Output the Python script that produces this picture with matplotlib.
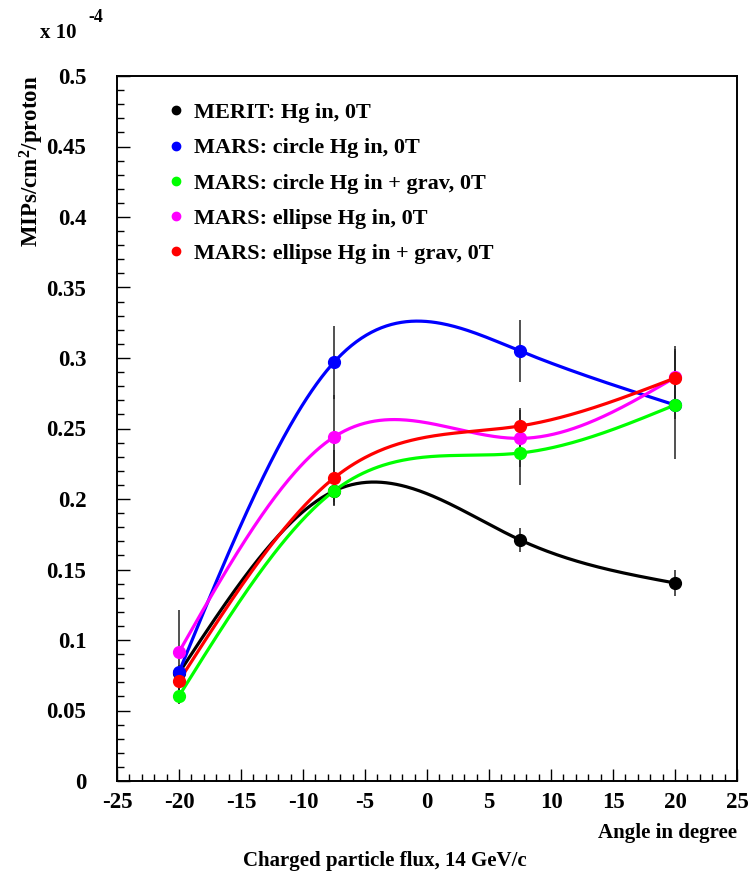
import numpy as np
import matplotlib
matplotlib.use("Agg")
import matplotlib.pyplot as plt
from matplotlib.lines import Line2D
from matplotlib.ticker import MultipleLocator

plt.rcParams['font.family'] = ['Liberation Serif', 'DejaVu Serif']
plt.rcParams['font.weight'] = 'bold'
plt.rcParams['mathtext.fontset'] = 'custom'
plt.rcParams['mathtext.rm'] = 'Liberation Serif:bold'
plt.rcParams['mathtext.it'] = 'Liberation Serif:bold'
plt.rcParams['mathtext.bf'] = 'Liberation Serif:bold'

# angles (degree) and flux values (x 1e-4 MIPs/cm^2/proton)
angles = [-20, -7.5, 7.5, 20]

merit = [0.0766, 0.2057, 0.171, 0.1404]
merit_err = [0.005, 0.008, 0.0085, 0.0095]

circle = [0.0773, 0.297, 0.305, 0.2667]
circle_err = [0.005, 0.026, 0.022, 0.01]

circle_grav = [0.0603, 0.2057, 0.2326, 0.2667]
circle_grav_err = [0.0057, 0.0097, 0.023, 0.038]

ellipse = [0.0915, 0.244, 0.243, 0.2862]
ellipse_err = [0.03, 0.03, 0.02, 0.02]

ellipse_grav = [0.0709, 0.2149, 0.2518, 0.2858]
ellipse_grav_err = [0.008, 0.02, 0.013, 0.023]

labels = ["MERIT: Hg in, 0T", "MARS: circle Hg in, 0T",
          "MARS: circle Hg in + grav, 0T", "MARS: ellipse Hg in, 0T",
          "MARS: ellipse Hg in + grav, 0T"]
colors = ["black", "#0000ff", "#00ff00", "#ff00ff", "#ff0000"]


def natural_spline(x, y, n=300):
    # plain natural cubic spline, like the smooth "C" curves
    x = np.asarray(x, float)
    y = np.asarray(y, float)
    k = len(x)
    h = np.diff(x)
    A = np.zeros((k, k))
    r = np.zeros(k)
    A[0, 0] = 1
    A[-1, -1] = 1
    for i in range(1, k - 1):
        A[i, i - 1] = h[i - 1]
        A[i, i] = 2 * (h[i - 1] + h[i])
        A[i, i + 1] = h[i]
        r[i] = 6 * ((y[i + 1] - y[i]) / h[i] - (y[i] - y[i - 1]) / h[i - 1])
    M = np.linalg.solve(A, r)
    xs = np.linspace(x[0], x[-1], n)
    ys = np.empty_like(xs)
    for j, t in enumerate(xs):
        i = min(np.searchsorted(x, t, side='right') - 1, k - 2)
        a = x[i + 1] - t
        b = t - x[i]
        ys[j] = (M[i] * a**3 + M[i + 1] * b**3) / (6 * h[i]) \
            + (y[i] / h[i] - M[i] * h[i] / 6) * a \
            + (y[i + 1] / h[i] - M[i + 1] * h[i] / 6) * b
    return xs, ys


fig = plt.figure(figsize=(7.55, 8.77), dpi=100)
ax = fig.add_axes([117 / 755, 1 - 781 / 877, 620 / 755, 705 / 877])

series = [(merit, merit_err), (circle, circle_err), (circle_grav, circle_grav_err),
          (ellipse, ellipse_err), (ellipse_grav, ellipse_grav_err)]

for (vals, errs), c in zip(series, colors):
    ax.errorbar(angles, vals, yerr=errs, fmt='none', ecolor='#222222',
                elinewidth=1.1, capsize=0, zorder=1)

for (vals, errs), c in zip(series, colors):
    xs, ys = natural_spline(angles, vals)
    ax.plot(xs, ys, color=c, lw=2.3, zorder=2)
    ax.plot(angles, vals, 'o', color=c, ms=8.5, zorder=3)

handles = [Line2D([], [], marker='o', ls='none', color=c, ms=6) for c in colors]
ax.legend(handles, labels, loc='upper left', bbox_to_anchor=(0.063, 0.975),
          frameon=False, fontsize=16, handletextpad=0.3, handlelength=1.0,
          labelspacing=0.66, borderaxespad=0)

ax.set_xlim(-25, 25)
ax.set_ylim(0, 0.5)
ax.xaxis.set_major_locator(MultipleLocator(5))
ax.xaxis.set_minor_locator(MultipleLocator(1))
ax.yaxis.set_major_locator(MultipleLocator(0.05))
ax.yaxis.set_minor_locator(MultipleLocator(0.01))
ax.set_xticks(np.arange(-25, 26, 5))
ax.set_xticklabels([str(v) for v in range(-25, 26, 5)])
ax.set_yticks(np.arange(0, 0.501, 0.05))
ax.set_yticklabels(["0", "0.05", "0.1", "0.15", "0.2", "0.25", "0.3",
                    "0.35", "0.4", "0.45", "0.5"])
ax.tick_params(which='both', direction='in', top=False, right=False,
               labelsize=16.5, width=1)
ax.tick_params(axis='y', which='major', length=9, pad=22)
ax.tick_params(axis='y', which='minor', length=5)
ax.tick_params(axis='x', which='major', length=9, pad=8)
ax.tick_params(axis='x', which='minor', length=5)
for s in ax.spines.values():
    s.set_linewidth(1.4)

fig.text(737 / 755, 1 - 833 / 877, "Angle in degree", ha='right', va='center',
         fontsize=15, fontweight='bold')
fig.text(385 / 755, 1 - 861 / 877, "Charged particle flux, 14 GeV/c",
         ha='center', va='center', fontsize=15, fontweight='bold')
fig.text(32 / 755, 1 - 75 / 877, r"MIPs/cm$^{2}$/proton", rotation=90,
         ha='center', va='top', fontsize=16.5, fontweight='bold')
fig.text(40 / 755, 1 - 33 / 877, "x 10", ha='left', va='center',
         fontsize=15, fontweight='bold')
fig.text(88 / 755, 1 - 17 / 877, "-4", ha='left', va='center',
         fontsize=13, fontweight='bold')

fig.savefig("out.png", dpi=100)
